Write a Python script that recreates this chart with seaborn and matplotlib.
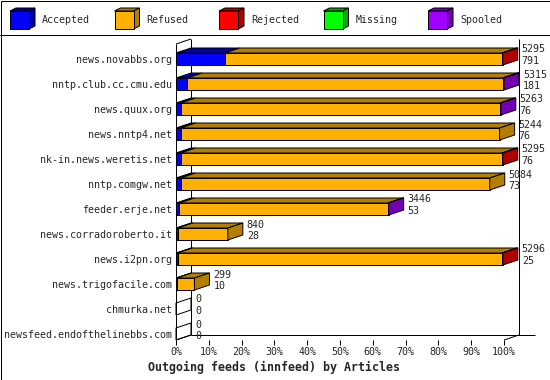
import numpy as np
import pandas as pd
import matplotlib
matplotlib.use("Agg")
import matplotlib.pyplot as plt
import seaborn as sns
from matplotlib.patches import Polygon, Rectangle
from matplotlib.lines import Line2D

# ---------------- data ----------------
hosts = ["news.novabbs.org", "nntp.club.cc.cmu.edu", "news.quux.org", "news.nntp4.net",
         "nk-in.news.weretis.net", "nntp.comgw.net", "feeder.erje.net",
         "news.corradoroberto.it", "news.i2pn.org", "news.trigofacile.com",
         "chmurka.net", "newsfeed.endofthelinebbs.com"]
totals = [5295, 5315, 5263, 5244, 5295, 5084, 3446, 840, 5296, 299, 0, 0]
accepted = [791, 181, 76, 76, 76, 73, 53, 28, 25, 10, 0, 0]
rejected = [14, 10, 0, 0, 14, 0, 0, 0, 14, 0, 0, 0]
missing = [0, 0, 0, 0, 0, 0, 0, 0, 0, 0, 0, 0]
spooled = [0, 12, 14, 0, 0, 0, 12, 0, 0, 0, 0, 0]
refused = [t - a - r - m - s for t, a, r, m, s in zip(totals, accepted, rejected, missing, spooled)]

series_names = ["Accepted", "Refused", "Rejected", "Missing", "Spooled"]
front_colors = ["#0000FF", "#FFB000", "#FF0000", "#00FF00", "#A000FF"]
dark_colors = ["#0000A8", "#B47F00", "#B00000", "#00A800", "#7400B4"]
xticks = list(range(0, 101, 10))
xtick_labels = [f"{v}%" for v in xticks]
title = "Outgoing feeds (innfeed) by Articles"

# ---------------- figure ----------------
W, H = 550, 380
sns.set_style("white")
plt.rcParams["font.family"] = ["DejaVu Sans Mono", "DejaVu Sans"]
FS = 7.2
LW = 0.72

fig = plt.figure(figsize=(W / 100, H / 100), dpi=100)
ax = fig.add_axes([176 / W, (H - 340) / H, (504 - 176) / W, (340 - 44) / H])

scale = 100.0 / max(totals)
segs = [accepted, refused, rejected, missing, spooled]
pct = np.array([[v * scale for v in s] for s in segs])  # 5 x n
cum = np.cumsum(pct, axis=0)

BAR_H = 0.48
DX = 15 / 328 * 100     # depth in x units
DY = 5 / 25             # depth in row units

df = pd.DataFrame({"host": hosts})
for k in range(4, -1, -1):
    df["v"] = cum[k]
    sns.barplot(data=df, x="v", y="host", order=hosts, orient="h",
                color=front_colors[k], saturation=1, width=BAR_H,
                edgecolor="black", linewidth=LW, errorbar=None, ax=ax)

# 3D faces
for i in range(len(hosts)):
    yt = i - BAR_H / 2
    yb = i + BAR_H / 2
    last = None
    for k in range(5):
        if pct[k, i] <= 0:
            continue
        x0 = cum[k, i] - pct[k, i]
        x1 = cum[k, i]
        ax.add_patch(Polygon([(x0, yt), (x1, yt), (x1 + DX, yt - DY), (x0 + DX, yt - DY)],
                             closed=True, fc=dark_colors[k], ec="black", lw=LW,
                             clip_on=False, zorder=3))
        last = k
    X = cum[4, i]
    side = [(X, yt), (X + DX, yt - DY), (X + DX, yb - DY), (X, yb)]
    if last is None:
        ax.add_patch(Polygon(side, closed=True, fill=False, ec="black", lw=LW,
                             clip_on=False, zorder=3))
    else:
        ax.add_patch(Polygon(side, closed=True, fc=dark_colors[last], ec="black", lw=LW,
                             clip_on=False, zorder=3))
    ax.text(X + DX + 1.2, i - 0.38, str(totals[i]), fontsize=FS, va="center", ha="left",
            zorder=5, clip_on=False)
    ax.text(X + DX + 1.2, i + 0.09, str(accepted[i]), fontsize=FS, va="center", ha="left",
            zorder=5, clip_on=False)

YB = (340 - 59) / 25
YT = (44 - 59) / 25
ax.set_ylim(YB, YT)
ax.set_xlim(0, 100)

# walls / frame lines
kw = dict(color="black", lw=LW, clip_on=False, zorder=0.5, solid_capstyle="butt")
ax.plot([0, 0], [YT, YB], **kw)
ax.plot([DX, DX], [YT - DY, YB - DY], **kw)
ax.plot([100 + DX, 100 + DX], [YT - DY, YB - DY], **kw)
ax.plot([DX, (535 - 176) / 328 * 100], [YB - DY, YB - DY], **kw)
ax.plot([0, DX], [YB, YB - DY], **kw)
ax.plot([100, 100 + DX], [YB, YB - DY], **kw)
ax.plot([0, DX], [YT, YT - DY], **kw)

for s in ax.spines.values():
    s.set_visible(False)
ax.set_facecolor("none")
ax.set_xticks(xticks)
ax.set_xticklabels(xtick_labels, fontsize=FS)
ax.tick_params(axis="x", direction="out", length=3.6, width=LW, pad=1.5, bottom=True, color="black")
ax.tick_params(axis="y", length=0, pad=3, labelsize=FS)
ax.set_ylabel("")
ax.set_xlabel("")

# ---------------- legend, title & borders (figure pixels) ----------------
def P(x, y):
    return (x / W, 1 - y / H)

tx, ty = P(274, 367)
fig.text(tx, ty, title, fontsize=8.4, fontweight="bold", ha="center", va="center")

fig.add_artist(Line2D([P(0, 34.5)[0], P(550, 34.5)[0]], [P(0, 34.5)[1]] * 2,
                      color="black", lw=LW, transform=fig.transFigure))
fig.add_artist(Rectangle(P(0.5, 379.5), 549 / W, 379 / H, fill=False, ec="black",
                         lw=LW, transform=fig.transFigure))
for j, name in enumerate(series_names):
    x0 = 10 + j * 104.5
    fx0, fx1, fy0, fy1 = x0, x0 + 19, 11, 29
    d, e = 6, 3
    fig.add_artist(Polygon([P(fx0, fy0), P(fx1, fy0), P(fx1 + d, fy0 - e), P(fx0 + d, fy0 - e)],
                           closed=True, fc=dark_colors[j], ec="black", lw=LW,
                           transform=fig.transFigure))
    fig.add_artist(Polygon([P(fx1, fy0), P(fx1 + d, fy0 - e), P(fx1 + d, fy1 - e), P(fx1, fy1)],
                           closed=True, fc=dark_colors[j], ec="black", lw=LW,
                           transform=fig.transFigure))
    fig.add_artist(Polygon([P(fx0, fy0), P(fx1, fy0), P(fx1, fy1), P(fx0, fy1)],
                           closed=True, fc=front_colors[j], ec="black", lw=LW,
                           transform=fig.transFigure))
    tx, ty = P(x0 + 32, 20)
    fig.text(tx, ty, name, fontsize=FS, va="center", ha="left")

fig.savefig("out.png", dpi=100, facecolor="white")
